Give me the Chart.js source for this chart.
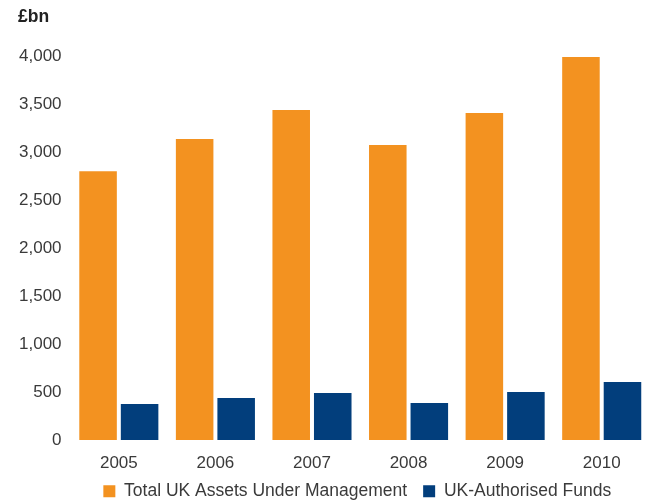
<!DOCTYPE html>
<html>
<head>
<meta charset="utf-8">
<script src="https://cdn.jsdelivr.net/npm/chart.js@4/dist/chart.umd.min.js"></script>
<style>
html,body{margin:0;padding:0;background:#fff;}
#wrap{width:650px;height:503px;position:relative;}
</style>
</head>
<body>
<div id="wrap"><canvas id="c"></canvas></div>
<script>
const categories = ['2005','2006','2007','2008','2009','2010'];
const totalAssets = [2800, 3135, 3437, 3073, 3406, 3990];
const authorisedFunds = [375, 437, 490, 385, 500, 604];
const seriesNames = ['Total UK Assets Under Management', 'UK-Authorised Funds'];
const unitLabel = '£bn';

const FONT = '"Liberation Sans", Arial, sans-serif';
const TXT = '#3a3a3a';

// Places the legend under the plot area (tucked closer to the axis labels)
// and nudges the unit label to the right.
const layoutTweaks = {
  id: 'layoutTweaks',
  afterLayout(chart) {
    const lg = chart.legend, ca = chart.chartArea;
    if (lg) {
      lg.left = ca.left - 3; lg.right = ca.right - 3;
      lg.top -= 20;
      lg.bottom = chart.height;
    }
    const tb = chart.titleBlock;
    if (tb) { tb.left += 8; tb.right += 8; }
  }
};

new Chart(document.getElementById('c'), {
  type: 'bar',
  data: {
    labels: categories,
    datasets: [
      { label: seriesNames[0], data: totalAssets, backgroundColor: '#F39220', borderWidth: 0 },
      { label: seriesNames[1], data: authorisedFunds, backgroundColor: '#023E7C', borderWidth: 0 }
    ]
  },
  plugins: [layoutTweaks],
  options: {
    responsive: true,
    maintainAspectRatio: false,
    animation: false,
    categoryPercentage: 0.86,
    barPercentage: 0.904,
    layout: { padding: { left: 10, right: 0, top: 7, bottom: 0 } },
    plugins: {
      title: {
        display: true, text: unitLabel, align: 'start', color: '#222',
        font: { family: FONT, size: 17.5, weight: 'bold' },
        padding: { top: 0, bottom: 28 }
      },
      legend: {
        position: 'bottom',
        maxHeight: 16.6,
        labels: {
          color: TXT, boxWidth: 12, boxHeight: 12, padding: 16,
          font: { family: FONT, size: 17.5 }
        }
      },
      tooltip: { enabled: false }
    },
    scales: {
      x: {
        grid: { display: false, drawTicks: false },
        border: { display: false },
        ticks: { color: TXT, font: { family: FONT, size: 17 }, padding: 13 }
      },
      y: {
        min: 0, max: 4000,
        grid: { display: false, drawTicks: false },
        border: { display: false },
        ticks: {
          stepSize: 500, color: TXT, padding: 9,
          font: { family: FONT, size: 17 },
          callback: v => v.toLocaleString('en-US')
        }
      }
    }
  }
});
</script>
</body>
</html>
